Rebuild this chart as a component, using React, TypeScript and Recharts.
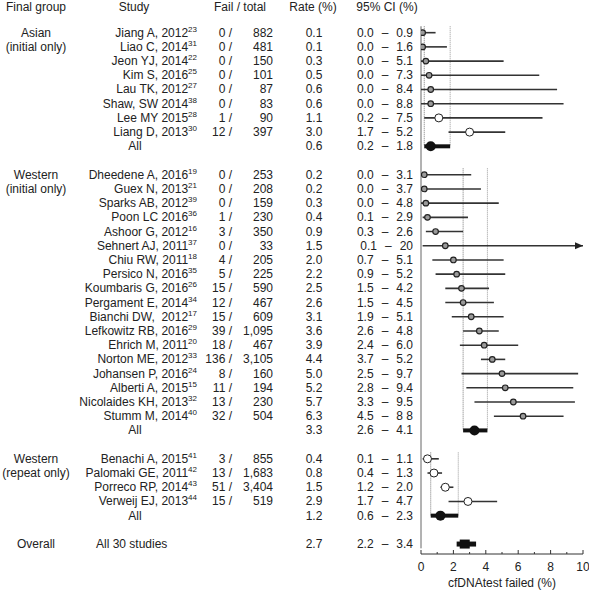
import React from 'react';
import { ScatterChart, Scatter, XAxis, YAxis, ErrorBar, ReferenceLine } from 'recharts';

const headers = ['Final group', 'Study', 'Fail / total', 'Rate (%)', '95% CI (%)'];

const groupNames = ['Asian', 'Western', 'Western'];
const groupNotes = ['(initial only)', '(initial only)', '(repeat only)'];
const groupSizes = [8, 18, 4];
const groupRates = [0.6, 3.3, 1.2];
const groupLow = [0.2, 2.6, 0.6];
const groupHigh = [1.8, 4.1, 2.3];
const groupCi = ['0.2 – 1.8', '2.6 – 4.1', '0.6 – 2.3'];

const overallLabel = 'All 30 studies';
const overallRate = 2.7;
const overallLow = 2.2;
const overallHigh = 3.4;
const overallCi = '2.2 – 3.4';

const studyNames = [
  'Jiang A, 2012', 'Liao C, 2014', 'Jeon YJ, 2014', 'Kim S, 2016', 'Lau TK, 2012', 'Shaw, SW 2014', 'Lee MY 2015', 'Liang D, 2013',
  'Dheedene A, 2016', 'Guex N, 2013', 'Sparks AB, 2012', 'Poon LC 2016', 'Ashoor G, 2012', 'Sehnert AJ, 2011', 'Chiu RW, 2011',
  'Persico N, 2016', 'Koumbaris G, 2016', 'Pergament E, 2014', 'Bianchi DW,\u00a0 2012', 'Lefkowitz RB, 2016', 'Ehrich M, 2011',
  'Norton ME, 2012', 'Johansen P, 2016', 'Alberti A, 2015', 'Nicolaides KH, 2013', 'Stumm M, 2014',
  'Benachi A, 2015', 'Palomaki GE, 2011', 'Porreco RP, 2014', 'Verweij EJ, 2013',
];
const studyRefs = [23, 31, 22, 25, 27, 38, 28, 30, 19, 21, 39, 36, 16, 37, 18, 35, 26, 34, 17, 29, 20, 33, 24, 15, 32, 40, 41, 42, 43, 44];
const fails = [0, 0, 0, 0, 0, 0, 1, 12, 0, 0, 0, 1, 3, 0, 4, 5, 15, 12, 15, 39, 18, 136, 8, 11, 13, 32, 3, 13, 51, 15];
const totals = [882, 481, 150, 101, 87, 83, 90, 397, 253, 208, 159, 230, 350, 33, 205, 225, 590, 467, 609, 1095, 467, 3105, 160, 194, 230, 504, 855, 1683, 3404, 519];
const rates = [0.1, 0.1, 0.3, 0.5, 0.6, 0.6, 1.1, 3.0, 0.2, 0.2, 0.3, 0.4, 0.9, 1.5, 2.0, 2.2, 2.5, 2.6, 3.1, 3.6, 3.9, 4.4, 5.0, 5.2, 5.7, 6.3, 0.4, 0.8, 1.5, 2.9];
const ciLow = [0, 0, 0, 0, 0, 0, 0.2, 1.7, 0, 0, 0, 0.1, 0.3, 0.1, 0.7, 0.9, 1.5, 1.5, 1.9, 2.6, 2.4, 3.7, 2.5, 2.8, 3.3, 4.5, 0.1, 0.4, 1.2, 1.7];
const ciHigh = [0.9, 1.6, 5.1, 7.3, 8.4, 8.8, 7.5, 5.2, 3.1, 3.7, 4.8, 2.9, 2.6, 20, 5.1, 5.2, 4.2, 4.5, 5.1, 4.8, 6.0, 5.2, 9.7, 9.4, 9.5, 8.8, 1.1, 1.3, 2.0, 4.7];
const ciLabels = [
  '0.0 – 0.9', '0.0 – 1.6', '0.0 – 5.1', '0.0 – 7.3', '0.0 – 8.4', '0.0 – 8.8', '0.2 – 7.5', '1.7 – 5.2',
  '0.0 – 3.1', '0.0 – 3.7', '0.0 – 4.8', '0.1 – 2.9', '0.3 – 2.6', '0.1 – 20', '0.7 – 5.1', '0.9 – 5.2',
  '1.5 – 4.2', '1.5 – 4.5', '1.9 – 5.1', '2.6 – 4.8', '2.4 – 6.0', '3.7 – 5.2', '2.5 – 9.7', '2.8 – 9.4',
  '3.3 – 9.5', '4.5 – 8 8', '0.1 – 1.1', '0.4 – 1.3', '1.2 – 2.0', '1.7 – 4.7',
];
// open markers (the rest are small grey dots)
const hollow = [
  false, false, false, false, false, false, true, true,
  false, false, false, false, false, false, false, false, false, false, false, false, false, false, false, false, false, false,
  true, true, true, true,
];

const xTicks = [0, 1, 2, 3, 4, 5, 6, 7, 8, 9, 10];
const X_MAX = 10;
const HEADER_ROW = -1.8;

type Cells = {
  group?: string;
  study?: string;
  ref?: number;
  all?: string;
  fail?: number;
  total?: number;
  rate?: number;
  ci?: string;
};

const rowText = new Map<number, Cells>();
const dots: any[] = [];
const opens: any[] = [];
const summaries: any[] = [];
const arrows: any[] = [];
const spans: { first: number; last: number; lo: number; hi: number }[] = [];

let row = 0;
let s = 0;
groupSizes.forEach((size, g) => {
  const first = row;
  for (let k = 0; k < size; k++, s++, row++) {
    const hi = Math.min(ciHigh[s], X_MAX);
    const pt = { x: rates[s], y: row, err: [rates[s] - ciLow[s], hi - rates[s]] };
    (hollow[s] ? opens : dots).push(pt);
    if (ciHigh[s] > X_MAX) arrows.push({ x: X_MAX, y: row });
    rowText.set(row, {
      group: k === 0 ? groupNames[g] : k === 1 ? groupNotes[g] : undefined,
      study: studyNames[s],
      ref: studyRefs[s],
      fail: fails[s],
      total: totals[s],
      rate: rates[s],
      ci: ciLabels[s],
    });
  }
  summaries.push({ x: groupRates[g], y: row, err: [groupRates[g] - groupLow[g], groupHigh[g] - groupRates[g]] });
  rowText.set(row, { all: 'All', rate: groupRates[g], ci: groupCi[g] });
  spans.push({ first, last: row, lo: groupLow[g], hi: groupHigh[g] });
  row += 2;
});
const overallRow = row;
const overall = [{ x: overallRate, y: overallRow, err: [overallRate - overallLow, overallHigh - overallRate] }];
rowText.set(overallRow, { group: 'Overall', rate: overallRate, ci: overallCi });

const tickRows = [HEADER_ROW, ...Array.from(rowText.keys())];

const ink = '#222';

const CiText = ({ y, label }: { y: number; label: string }) => {
  const [lo, hi] = label.split(' – ');
  return (
    <text x={413} y={y} dy={4} textAnchor="end" fontSize={12} fill={ink}>
      <tspan>{lo}</tspan>
      <tspan dx={8}>–</tspan>
      <tspan dx={8}>{hi}</tspan>
    </text>
  );
};

const RowTick = (props: any) => {
  const { y, payload } = props;
  if (payload.value === HEADER_ROW) {
    const xs = [36, 134, 240, 313, 387];
    return (
      <g>
        {headers.map((h, i) => (
          <text key={h} x={xs[i]} y={y} dy={4} textAnchor="middle" fontSize={12} fill={ink}>{h}</text>
        ))}
      </g>
    );
  }
  const c = rowText.get(payload.value);
  if (!c) return null;
  return (
    <g fontSize={12} fill={ink}>
      {c.group && <text x={36} y={y} dy={4} textAnchor="middle">{c.group}</text>}
      {c.study && (
        <text x={197} y={y} dy={4} textAnchor="end">
          {c.study}
          <tspan dy={-5} fontSize={8}>{c.ref}</tspan>
        </text>
      )}
      {c.all && <text x={135} y={y} dy={4} textAnchor="middle">{c.all}</text>}
      {c.group === 'Overall' && <text x={96} y={y} dy={4}>{overallLabel}</text>}
      {c.fail !== undefined && <text x={232} y={y} dy={4} textAnchor="end">{c.fail} /</text>}
      {c.total !== undefined && <text x={273} y={y} dy={4} textAnchor="end">{c.total.toLocaleString('en-US')}</text>}
      {c.rate !== undefined && <text x={314} y={y} dy={4} textAnchor="middle">{c.rate.toFixed(1)}</text>}
      {c.ci && <CiText y={y} label={c.ci} />}
    </g>
  );
};

const AxisTick = (props: any) => {
  const { x, y, payload } = props;
  const major = payload.value % 2 === 0;
  return (
    <g>
      <line x1={x} x2={x} y1={y} y2={y - (major ? 4 : 2)} stroke="#333" />
      {major && (
        <text x={x} y={y + 17} textAnchor="middle" fontSize={12} fill={ink}>{payload.value}</text>
      )}
    </g>
  );
};

const smallDot = (p: any) => <circle cx={p.cx} cy={p.cy} r={2.8} fill="#9a9a9a" stroke="#222" strokeWidth={1.2} />;
const openDot = (p: any) => <circle cx={p.cx} cy={p.cy} r={4} fill="#fff" stroke="#222" strokeWidth={1} />;
const bigDot = (p: any) => <circle cx={p.cx} cy={p.cy} r={5} fill="#111" />;
const square = (p: any) => <rect x={p.cx - 5} y={p.cy - 4.5} width={10} height={9} fill="#111" />;
const arrowHead = (p: any) => (
  <polygon points={`${p.cx},${p.cy} ${p.cx - 8},${p.cy - 3.5} ${p.cx - 8},${p.cy + 3.5}`} fill="#222" />
);

export default function App() {
  return (
    <>
      <style>{'body{margin:0}'}</style>
      <ScatterChart
        width={589}
        height={593}
        margin={{ top: 0, right: 6, bottom: 0, left: 0 }}
        style={{ fontFamily: '"Liberation Sans", Arial, sans-serif' }}
      >
        <XAxis
          type="number"
          dataKey="x"
          domain={[0, X_MAX]}
          allowDataOverflow
          ticks={xTicks}
          interval={0}
          height={39}
          tickLine={false}
          tickSize={0}
          tickMargin={0}
          axisLine={{ stroke: '#333' }}
          tick={AxisTick}
          label={{ value: 'cfDNAtest failed (%)', position: 'insideBottom', offset: 6, fill: ink, fontSize: 12 }}
        />
        <YAxis
          type="number"
          dataKey="y"
          domain={[-2.3, 36.7]}
          allowDataOverflow
          reversed
          width={421}
          ticks={tickRows}
          interval={0}
          axisLine={false}
          tickLine={false}
          tick={RowTick}
        />
        <ReferenceLine segment={[{ x: 0, y: -0.45 }, { x: 0, y: 36.3 }]} stroke="#666" />
        {spans.map((sp) => (
          <React.Fragment key={sp.first}>
            <ReferenceLine segment={[{ x: sp.lo, y: sp.first - 0.45 }, { x: sp.lo, y: sp.last }]} stroke="#777" strokeDasharray="1 1" />
            <ReferenceLine segment={[{ x: sp.hi, y: sp.first - 0.45 }, { x: sp.hi, y: sp.last }]} stroke="#999" strokeDasharray="1 1" />
          </React.Fragment>
        ))}
        <Scatter data={dots} shape={smallDot} isAnimationActive={false}>
          <ErrorBar dataKey="err" direction="x" width={0} stroke="#333" strokeWidth={1.6} isAnimationActive={false} />
        </Scatter>
        <Scatter data={opens} shape={openDot} isAnimationActive={false}>
          <ErrorBar dataKey="err" direction="x" width={0} stroke="#333" strokeWidth={1.6} isAnimationActive={false} />
        </Scatter>
        <Scatter data={summaries} shape={bigDot} isAnimationActive={false}>
          <ErrorBar dataKey="err" direction="x" width={0} stroke="#111" strokeWidth={4} isAnimationActive={false} />
        </Scatter>
        <Scatter data={overall} shape={square} isAnimationActive={false}>
          <ErrorBar dataKey="err" direction="x" width={0} stroke="#111" strokeWidth={5} isAnimationActive={false} />
        </Scatter>
        <Scatter data={arrows} shape={arrowHead} isAnimationActive={false} />
      </ScatterChart>
    </>
  );
}
